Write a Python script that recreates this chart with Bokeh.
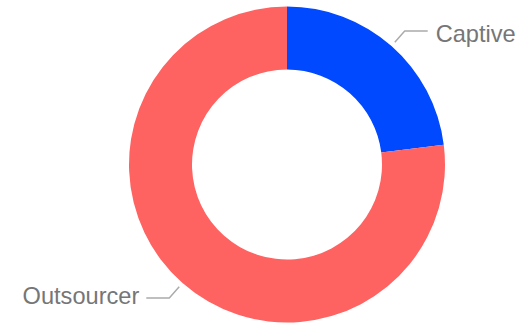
import math
from bokeh.plotting import figure
from bokeh.models import Range1d, ColumnDataSource
from bokeh.core.properties import value
from bokeh.embed import file_html
from bokeh.resources import INLINE

# ---- data ----
categories = ["Captive", "Outsourcer"]
shares = [23, 77]
colors = ["#0049FF", "#FF6361"]

# ---- layout ----
W, H = 516, 324
cx, cy = 286.5, H - 164.0
r_out, r_in = 158.0, 95.0

p = figure(width=W, height=H, x_range=Range1d(0, W), y_range=Range1d(0, H),
           output_backend="svg", toolbar_location=None, min_border=0)
p.axis.visible = False
p.grid.visible = False
p.outline_line_color = None
p.background_fill_color = "white"
p.border_fill_color = "white"

total = float(sum(shares))
starts, ends, mids = [], [], []
cum = 0.0
for s in shares:
    a0 = math.pi / 2 - 2 * math.pi * (cum + s) / total
    a1 = math.pi / 2 - 2 * math.pi * cum / total
    starts.append(a0)
    ends.append(a1)
    mids.append((a0 + a1) / 2)
    cum += s

src = ColumnDataSource(dict(start=starts, end=ends, color=colors, cat=categories))
p.annular_wedge(x=cx, y=cy, inner_radius=r_in, outer_radius=r_out,
                start_angle="start", end_angle="end", direction="anticlock",
                fill_color="color", line_color=None, source=src)

# leader lines + labels
lx, ly, tx, ty, align = [], [], [], [], []
dy_tweak = [-3.0, 2.0]
gap = [8, 7]
for i, m in enumerate(mids):
    x0 = cx + (r_out + 5) * math.cos(m)
    y0 = cy + (r_out + 5) * math.sin(m)
    x1 = cx + (r_out + 20) * math.cos(m)
    y1 = cy + (r_out + 20) * math.sin(m)
    side = 1 if math.cos(m) >= 0 else -1
    x2 = x1 + side * 23
    lx.append([x0, x1, x2])
    ly.append([y0, y1, y1])
    tx.append(x2 + side * gap[i])
    ty.append(y1 + dy_tweak[i])
    align.append("left" if side > 0 else "right")

p.multi_line(xs=lx, ys=ly, line_color="#ababab", line_width=1.5)
p.text(x=tx, y=ty, text=categories, text_align=align, text_baseline="middle",
       text_font=value("Liberation Sans"), text_font_size="23.6px",
       text_color="#767676")

open("out.html", "w").write(file_html(p, INLINE))
